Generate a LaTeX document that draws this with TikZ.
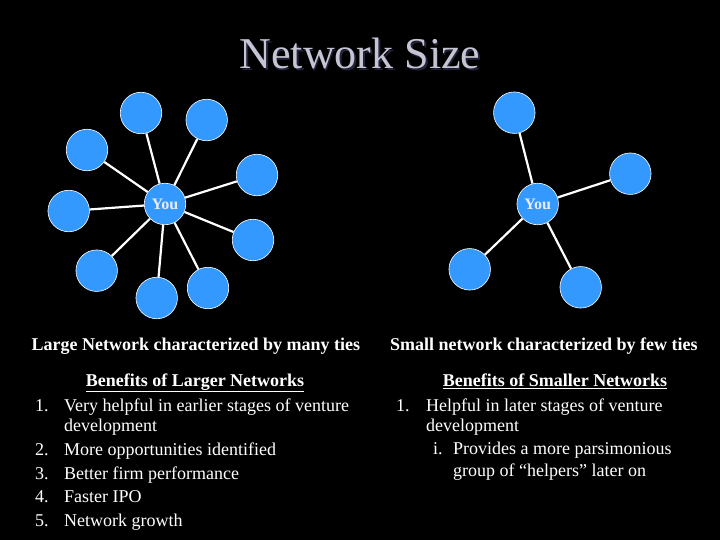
\documentclass[tikz,border=0pt]{standalone}
\usepackage{fontspec}
\setmainfont{Liberation Serif}
\definecolor{nodeblue}{RGB}{51,153,255}
\definecolor{titlegray}{RGB}{196,196,210}
\definecolor{titleshadow}{RGB}{35,35,60}
\definecolor{youcol}{RGB}{235,235,250}
\begin{document}
\begin{tikzpicture}[x=1pt,y=-1pt,
  peer/.style={circle,draw=white,line width=0.6pt,fill=nodeblue,minimum size=41.5pt,inner sep=0pt},
  tie/.style={draw=white,line width=2.2pt},
  body/.style={anchor=base west,inner sep=0pt,text=white,font=\fontsize{18}{21}\selectfont},
  head/.style={anchor=base west,inner sep=0pt,text=white,font=\fontsize{18}{21}\selectfont\bfseries}]
\fill[black] (0,0) rectangle (720,540);
\useasboundingbox (0,0) rectangle (720,540);
% title
\node[anchor=base,inner sep=0pt,text=titleshadow,font=\fontsize{44}{50}\selectfont] at (361.5,70.5) {Network Size};
\node[anchor=base,inner sep=0pt,text=titlegray,font=\fontsize{44}{50}\selectfont] (title) at (360,69) {Network Size};
% large network
\node[peer,text=youcol,font=\fontsize{16}{18}\selectfont\bfseries] (L) at (165,204) {You};
\node[peer] (L1) at (141,113) {};
\node[peer] (L2) at (206.7,120) {};
\node[peer] (L3) at (87,150) {};
\node[peer] (L4) at (257,175) {};
\node[peer] (L5) at (68.7,211) {};
\node[peer] (L6) at (253,240) {};
\node[peer] (L7) at (96.7,270.7) {};
\node[peer] (L8) at (156.7,298) {};
\node[peer] (L9) at (208,288) {};
\foreach \n in {L1,L2,L3,L4,L5,L6,L7,L8,L9} \draw[tie] (L) -- (\n);
% small network
\node[peer,text=youcol,font=\fontsize{16}{18}\selectfont\bfseries] (S) at (537.7,204) {You};
\node[peer] (S1) at (514.3,112.7) {};
\node[peer] (S2) at (630.3,173.7) {};
\node[peer] (S3) at (469.7,269.3) {};
\node[peer] (S4) at (580.7,287.3) {};
\foreach \n in {S1,S2,S3,S4} \draw[tie] (S) -- (\n);
% left texts
\node[head] (lcap) at (31.5,350.7) {Large Network characterized by many ties};
\node[head,anchor=base] (lben) at (195,386) {\underline{Benefits of Larger Networks}};
\node[body] (l1n) at (35,411.5) {1.};
\node[body] (l1) at (64,411.5) {Very helpful in earlier stages of venture};
\node[body] (l1b) at (64,431.5) {development};
\node[body] (l2n) at (35,455) {2.};
\node[body] (l2) at (64,455) {More opportunities identified};
\node[body] (l3n) at (35,479) {3.};
\node[body] (l3) at (64,479) {Better firm performance};
\node[body] (l4n) at (35,502.5) {4.};
\node[body] (l4) at (64,502.5) {Faster IPO};
\node[body] (l5n) at (35,526) {5.};
\node[body] (l5) at (64,526) {Network growth};
% right texts
\node[head] (rcap) at (390,350.7) {Small network characterized by few ties};
\node[head,anchor=base] (rben) at (555,386.5) {\underline{Benefits of Smaller Networks}};
\node[body] (r1n) at (396,411.5) {1.};
\node[body] (r1) at (426,411.5) {Helpful in later stages of venture};
\node[body] (r1b) at (426,431.5) {development};
\node[body] (rin) at (433,454) {i.};
\node[body] (ri) at (453,454) {Provides a more parsimonious};
\node[body] (rib) at (453,476.5) {group of “helpers” later on};
\end{tikzpicture}
\end{document}
